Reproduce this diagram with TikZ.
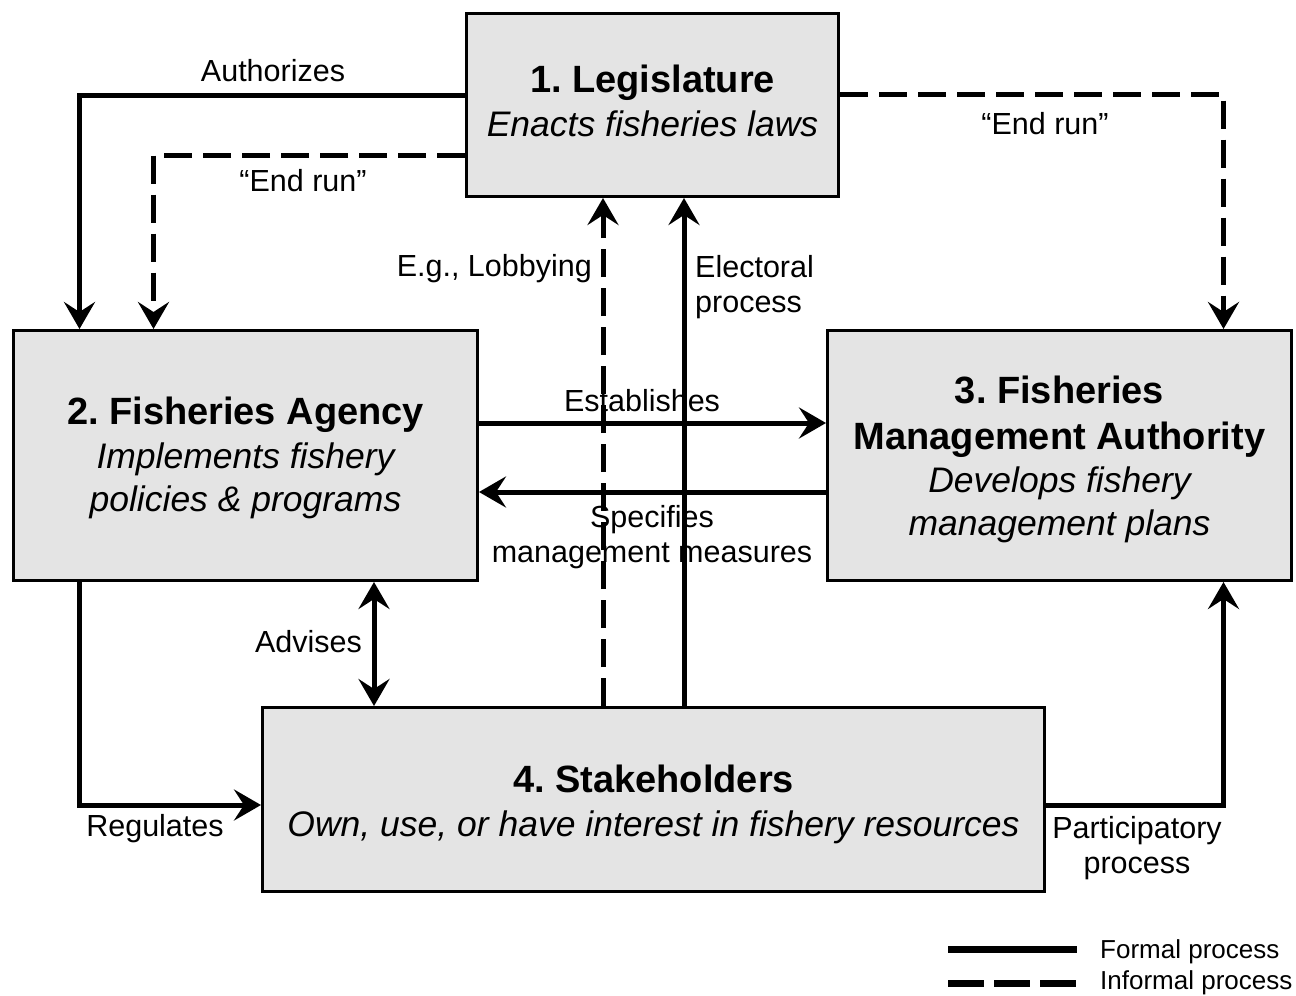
\documentclass[tikz,border=0pt]{standalone}
\usepackage{fontspec}
\setmainfont{Liberation Sans}
\usetikzlibrary{arrows.meta,calc}
\definecolor{boxgray}{RGB}{228,228,228}
\frenchspacing
\begin{document}
\begin{tikzpicture}[x=1pt,y=-1pt,
  box/.style={draw=black,line width=3pt,fill=boxgray,inner sep=0pt},
  boxtext/.style={align=center,inner sep=0pt,font=\fontsize{35.5}{43}\selectfont},
  lbl/.style={font=\fontsize{30.5}{35.5}\selectfont,inner sep=0pt,align=center},
  lgd/.style={font=\fontsize{26}{30}\selectfont,inner sep=0pt},
  tip/.style={-{Stealth[length=27pt,width=31pt,inset=10pt]}},
  formal/.style={line width=5pt,tip},
  informal/.style={line width=5pt,tip,dash pattern=on 28pt off 11pt},
]
\useasboundingbox (0,0) rectangle (1296,996);

% boxes
\node[box,minimum width=372pt,minimum height=183pt] (leg) at (652.5,105) {};
\node[box,minimum width=464pt,minimum height=250pt] (agency) at (245.5,455.5) {};
\node[box,minimum width=464pt,minimum height=250pt] (fma) at (1059.5,455.5) {};
\node[box,minimum width=782pt,minimum height=184pt] (stake) at (653.5,799.5) {};

% box texts
\node[boxtext] (legt) at ($(leg.center)+(0,-4)$)
  {{\fontsize{38}{44}\selectfont\bfseries 1. Legislature}\\[1pt]\itshape Enacts fisheries laws};
\node[boxtext] (agencyt) at ($(agency.center)+(0,2)$)
  {{\fontsize{38}{44}\selectfont\bfseries 2. Fisheries Agency}\\[1pt]\itshape Implements fishery\\\itshape policies \& programs};
\node[boxtext] (fmat) at ($(fma.center)+(0,4)$)
  {{\fontsize{38}{44}\selectfont\bfseries 3. Fisheries}\\[3pt]{\fontsize{38}{44}\selectfont\bfseries Management Authority}\\[0pt]\itshape Develops fishery\\\itshape management plans};
\node[boxtext] (staket) at ($(stake.center)+(0,5)$)
  {{\fontsize{38}{44}\selectfont\bfseries 4. Stakeholders}\\[1pt]\itshape Own, use, or have interest in fishery resources};

% helper coordinates
\coordinate (lobx) at ([xshift=-50.5pt]stake.north);
\coordinate (elex) at ([xshift=30.5pt]stake.north);
\coordinate (advx) at ([xshift=-279.5pt]stake.north);
\coordinate (esty) at ([yshift=32.5pt]agency.east);
\coordinate (spcy) at ([yshift=-36.5pt]fma.west);

% connectors
\draw[formal] ([yshift=10pt]leg.west) -| ([xshift=67.5pt]agency.north west);
\draw[informal] ([yshift=-50pt]leg.west) -| ([xshift=141.5pt]agency.north west);
\draw[informal] ([yshift=11pt]leg.east) -| ([xshift=-69.5pt]fma.north east);
\draw[informal] (lobx) -- (lobx |- leg.south);
\draw[formal] (elex) -- (elex |- leg.south);
\draw[formal] (esty) -- (esty -| fma.west);
\draw[formal] (spcy) -- (spcy -| agency.east);
\draw[formal,{Stealth[length=27pt,width=31pt,inset=10pt]}-{Stealth[length=27pt,width=31pt,inset=10pt]}] (advx |- agency.south) -- (advx);
\draw[formal] ([xshift=67pt]agency.south west) |- ([yshift=-5.5pt]stake.west);
\draw[formal] ([yshift=-5.5pt]stake.east) -| ([xshift=-69.5pt]fma.south east);

% labels
\node[lbl] (lauth) at (273,71) {Authorizes};
\node[lbl] (lend1) at (303,181) {``End run''};
\node[lbl] (lend2) at (1045,124) {``End run''};
\node[lbl,anchor=east] (llob) at (592,269) {E.g., Lobbying};
\node[lbl,anchor=west,align=left] (lelec) at (695,287) {Electoral\\process};
\node[lbl] (lest) at (642,401) {Establishes};
\node[lbl] (lspc) at (652,537) {Specifies\\management measures};
\node[lbl,anchor=east] (ladv) at (362,642) {Advises};
\node[lbl] (lreg) at (155,829) {Regulates};
\node[lbl] (lpart) at (1137,848) {Participatory\\process};

% legend
\coordinate (lf1) at (948,949);
\coordinate (lf2) at (1077,949);
\coordinate (li1) at (948,983);
\coordinate (li2) at (1077,983);
\draw[line width=7pt] (lf1) -- (lf2);
\draw[line width=7pt,dash pattern=on 36pt off 10pt] (li1) -- (li2);
\node[lgd,anchor=west] (lformal) at (1100,952) {Formal process};
\node[lgd,anchor=west] (linformal) at (1100,983) {Informal process};
\end{tikzpicture}
\end{document}
